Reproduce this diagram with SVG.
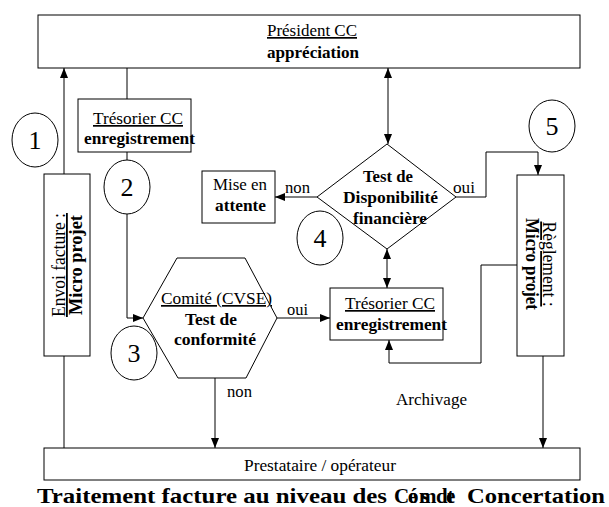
<svg xmlns="http://www.w3.org/2000/svg" width="609" height="507" viewBox="0 0 609 507">
  <style>
    .box { fill: #ffffff; stroke: #000000; stroke-width: 1; }
    .line { fill: none; stroke: #000000; stroke-width: 1; }
    .t { font-family: "Liberation Serif", "Times New Roman", Times, serif; font-size: 17px; fill: #000000; }
    .b { font-weight: bold; }
    .u { text-decoration: underline; }
    .num { font-family: "Liberation Serif", "Times New Roman", Times, serif; font-size: 26px; fill: #000000; text-anchor: middle; }
    .c { text-anchor: middle; }
  </style>
  <defs>
    <marker id="arrow" markerUnits="userSpaceOnUse" markerWidth="10" markerHeight="10" viewBox="0 0 10 10" refX="10" refY="5" orient="auto-start-reverse">
      <path d="M0,1 L10,5 L0,9 Z" fill="#000000"/>
    </marker>
  </defs>

  <rect width="609" height="507" fill="#ffffff"/>

  <!-- connectors -->
  <g id="connectors">
    <!-- President to treasurer (1) -->
    <line class="line" x1="127" y1="68" x2="127" y2="99"/>
    <!-- treasurer (1) to circle 2 -->
    <line class="line" x1="127" y1="152" x2="127" y2="160"/>
    <!-- circle 2 to committee -->
    <polyline class="line" points="127,214 127,318 143,318" marker-end="url(#arrow)"/>
    <!-- invoice up to president -->
    <line class="line" x1="64" y1="174" x2="64" y2="68" marker-end="url(#arrow)"/>
    <!-- invoice down to provider -->
    <line class="line" x1="64" y1="356" x2="64" y2="448"/>
    <!-- committee non -->
    <line class="line" x1="215" y1="378" x2="215" y2="448" marker-end="url(#arrow)"/>
    <!-- committee oui -->
    <line class="line" x1="277" y1="318" x2="330" y2="318" marker-end="url(#arrow)"/>
    <!-- president <-> test -->
    <line class="line" x1="388" y1="68" x2="388" y2="144" marker-start="url(#arrow)" marker-end="url(#arrow)"/>
    <!-- test <-> treasurer (2) -->
    <line class="line" x1="387" y1="249" x2="387" y2="288" marker-start="url(#arrow)" marker-end="url(#arrow)"/>
    <!-- test non -->
    <line class="line" x1="317" y1="197" x2="275" y2="197" marker-end="url(#arrow)"/>
    <!-- test oui -->
    <polyline class="line" points="456,197 486,197 486,152 538,152 538,175" marker-end="url(#arrow)"/>
    <!-- payment down to provider -->
    <line class="line" x1="543" y1="356" x2="543" y2="448" marker-end="url(#arrow)"/>
    <!-- archiving loop -->
    <polyline class="line" points="517,265 481,265 481,363 389,363 389,340" marker-end="url(#arrow)"/>
    <text class="t" x="396" y="405" textLength="71" lengthAdjust="spacingAndGlyphs">Archivage</text>
    <text class="t" x="285" y="193" textLength="25" lengthAdjust="spacingAndGlyphs">non</text>
    <text class="t" x="453" y="193" textLength="22" lengthAdjust="spacingAndGlyphs">oui</text>
    <text class="t" x="287" y="315" textLength="21" lengthAdjust="spacingAndGlyphs">oui</text>
    <text class="t" x="227" y="397" textLength="25" lengthAdjust="spacingAndGlyphs">non</text>
  </g>

  <g id="president">
    <rect class="box" x="38" y="15" width="542" height="53"/>
    <text class="t u c" x="312" y="36" textLength="90" lengthAdjust="spacingAndGlyphs">Président CC</text>
    <text class="t b c" x="313" y="58" textLength="92" lengthAdjust="spacingAndGlyphs">appréciation</text>
  </g>

  <g id="tresorier1">
    <rect class="box" x="78" y="99" width="113" height="53"/>
    <text class="t u c" x="138" y="124" textLength="90" lengthAdjust="spacingAndGlyphs">Trésorier CC</text>
    <text class="t b c" x="139.5" y="144" textLength="111" lengthAdjust="spacingAndGlyphs">enregistrement</text>
  </g>

  <g id="step1">
    <ellipse class="box" cx="35" cy="140" rx="23" ry="27"/>
    <text class="num" x="35" y="149">1</text>
  </g>

  <g id="step2">
    <ellipse class="box" cx="127" cy="187" rx="23" ry="27"/>
    <text class="num" x="127" y="196">2</text>
  </g>

  <g id="envoi">
    <rect class="box" x="44" y="174" width="46" height="182"/>
    <text class="t u c" transform="translate(65,265) rotate(-90)" style="font-size:18px" textLength="104" lengthAdjust="spacingAndGlyphs">Envoi facture :</text>
    <text class="t b c" transform="translate(82,265) rotate(-90)" style="font-size:18px" textLength="100" lengthAdjust="spacingAndGlyphs">Micro projet</text>
  </g>

  <g id="comite">
    <polygon class="box" points="177,258 245,258 277,318 246,378 178,378 143,318"/>
    <text class="t u c" x="216.5" y="304" textLength="111" lengthAdjust="spacingAndGlyphs">Comité (CVSE)</text>
    <text class="t b c" x="211" y="325" textLength="52" lengthAdjust="spacingAndGlyphs">Test de</text>
    <text class="t b c" x="215" y="345" textLength="82" lengthAdjust="spacingAndGlyphs">conformité</text>
  </g>

  <!-- step 3 circle sits over the hexagon edge -->
  <g id="step3">
    <ellipse class="box" cx="134" cy="353" rx="23" ry="27"/>
    <text class="num" x="134" y="362">3</text>
  </g>

  <g id="attente">
    <rect class="box" x="202" y="171" width="73" height="52"/>
    <text class="t c" x="240" y="190" textLength="54" lengthAdjust="spacingAndGlyphs">Mise en</text>
    <text class="t b c" x="240.5" y="211" textLength="51" lengthAdjust="spacingAndGlyphs">attente</text>
  </g>

  <g id="test-dispo">
    <polygon class="box" points="387,144 456,197 387,249 317,197"/>
    <text class="t b c" x="388" y="182" textLength="50" lengthAdjust="spacingAndGlyphs">Test de</text>
    <text class="t b c" x="390.5" y="203" textLength="95" lengthAdjust="spacingAndGlyphs">Disponibilité</text>
    <text class="t b c" x="390" y="224" textLength="74" lengthAdjust="spacingAndGlyphs">financière</text>
  </g>

  <g id="step4">
    <ellipse class="box" cx="320" cy="238" rx="23" ry="27"/>
    <text class="num" x="320" y="247">4</text>
  </g>

  <g id="step5">
    <ellipse class="box" cx="552" cy="126" rx="23" ry="26"/>
    <text class="num" x="552" y="135">5</text>
  </g>

  <g id="tresorier2">
    <rect class="box" x="330" y="288" width="113" height="52"/>
    <text class="t u c" x="390" y="309" textLength="90" lengthAdjust="spacingAndGlyphs">Trésorier CC</text>
    <text class="t b c" x="391.5" y="330" textLength="111" lengthAdjust="spacingAndGlyphs">enregistrement</text>
  </g>

  <g id="reglement">
    <rect class="box" x="517" y="175" width="47" height="181"/>
    <text class="t u c" transform="translate(543,264) rotate(90)" style="font-size:18px" textLength="85" lengthAdjust="spacingAndGlyphs">Règlement :</text>
    <text class="t b c" transform="translate(526,264) rotate(90)" style="font-size:18px" textLength="92" lengthAdjust="spacingAndGlyphs">Micro projet</text>
  </g>

  <g id="prestataire">
    <rect class="box" x="44" y="448" width="536" height="32"/>
    <text class="t c" x="320" y="471" textLength="152" lengthAdjust="spacingAndGlyphs">Prestataire / opérateur</text>
  </g>

  <!-- caption; the middle word is set with overprinted glyphs -->
  <g id="title" class="t b" style="font-size:21px">
    <text x="37" y="503" textLength="350" lengthAdjust="spacingAndGlyphs">Traitement facture au niveau des</text>
    <text x="394 408 408 421 419 436 446 447" y="503">Coésmdet</text>
    <text x="467" y="503" textLength="138" lengthAdjust="spacingAndGlyphs">Concertation</text>
  </g>
</svg>
